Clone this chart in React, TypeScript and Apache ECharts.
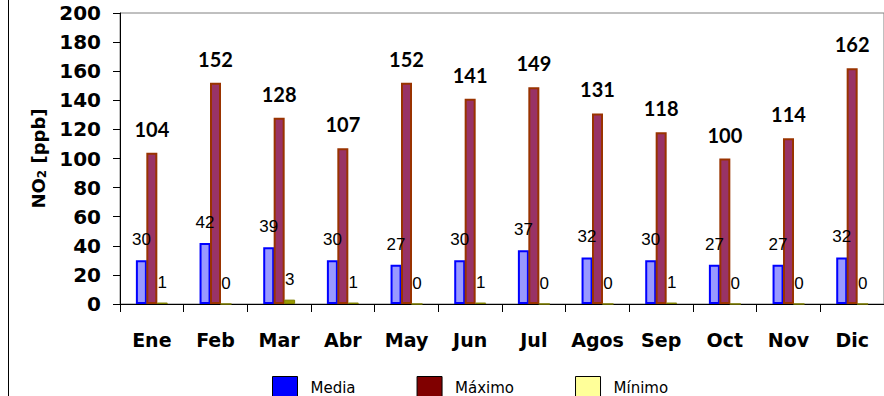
import React, { useEffect, useRef } from "react";
import * as echarts from "echarts";

const categories = ["Ene", "Feb", "Mar", "Abr", "May", "Jun", "Jul", "Agos", "Sep", "Oct", "Nov", "Dic"];
const media = [30, 42, 39, 30, 27, 30, 37, 32, 30, 27, 27, 32];
const maximo = [104, 152, 128, 107, 152, 141, 149, 131, 118, 100, 114, 162];
const minimo = [1, 0, 3, 1, 0, 1, 0, 0, 1, 0, 0, 0];
const seriesNames = ["Media", "Máximo", "Mínimo"];

const HEAD = "'DejaVu Sans', sans-serif";
const GEO = "Lato, 'DejaVu Sans', sans-serif";
const ARIAL = "'Liberation Sans', Arial, sans-serif";

export default function App() {
  const ref = useRef<HTMLDivElement>(null);
  useEffect(() => {
    if (!ref.current) return;
    const chart = echarts.init(ref.current, null, { renderer: "svg" });
    chart.setOption({
      animation: false,
      backgroundColor: "#ffffff",
      grid: {
        left: 120,
        top: 13,
        width: 768,
        height: 291,
        show: true,
        borderColor: "#808080",
        borderWidth: 1,
      },
      legend: {
        left: 267,
        top: 371,
        itemWidth: 25,
        itemHeight: 22,
        itemGap: 61,
        textStyle: { fontFamily: HEAD, fontSize: 15, lineHeight: 16, color: "#000", padding: [3, 0, 0, 8] },
        data: [
          { name: seriesNames[0], icon: "rect", itemStyle: { color: "#0000ff", borderColor: "#000", borderWidth: 1 } },
          { name: seriesNames[1], icon: "rect", itemStyle: { color: "#800000", borderColor: "#000", borderWidth: 1 } },
          { name: seriesNames[2], icon: "rect", itemStyle: { color: "#ffff99", borderColor: "#000", borderWidth: 1 } },
        ],
      },
      xAxis: {
        type: "category",
        data: categories,
        axisLine: { lineStyle: { color: "#000", width: 1 } },
        axisTick: { show: true, length: 8, lineStyle: { color: "#000" } },
        axisLabel: {
          interval: 0,
          color: "#000",
          fontFamily: HEAD,
          fontWeight: "bold",
          fontSize: 19,
          margin: 26,
        },
      },
      yAxis: {
        type: "value",
        min: 0,
        max: 200,
        interval: 20,
        name: "{a|NO}{b|2}{a| [ppb]}",
        nameLocation: "middle",
        nameGap: 72,
        nameRotate: 90,
        nameTextStyle: {
          rich: {
            a: { fontFamily: HEAD, fontWeight: "bold", fontSize: 18, color: "#000" },
            b: { fontFamily: HEAD, fontWeight: "bold", fontSize: 12, color: "#000", padding: [7, 0, 0, 0] },
          },
        },
        axisLine: { show: true, lineStyle: { color: "#000", width: 1 } },
        axisTick: { show: true, length: 7, lineStyle: { color: "#000" } },
        splitLine: { show: false },
        axisLabel: { color: "#000", fontFamily: HEAD, fontWeight: "bold", fontSize: 20, margin: 19 },
      },
      graphic: [
        { type: "line", shape: { x1: 8.5, y1: 0, x2: 8.5, y2: 396 }, style: { stroke: "#000", lineWidth: 1 } },
      ],
      series: [
        {
          name: seriesNames[0],
          type: "bar",
          data: media,
          barWidth: 11,
          barGap: "-5%",
          itemStyle: { color: "#9999ff", borderColor: "#0000ff", borderWidth: 2 },
          label: {
            show: true,
            position: "top",
            distance: 12,
            fontFamily: ARIAL,
            fontSize: 17,
            color: "#000",
          },
        },
        {
          name: seriesNames[1],
          type: "bar",
          data: maximo,
          barWidth: 11,
          barGap: "-5%",
          itemStyle: { color: "#993366", borderColor: "#993300", borderWidth: 2 },
          label: {
            show: true,
            position: "top",
            distance: 14,
            fontFamily: GEO,
            fontWeight: "bold",
            fontSize: 20,
            color: "#000",
          },
        },
        {
          name: seriesNames[2],
          type: "bar",
          data: minimo,
          barWidth: 11,
          barGap: "-5%",
          itemStyle: { color: "#999900", borderColor: "#808000", borderWidth: 1 },
          label: {
            show: true,
            position: "top",
            distance: 12,
            fontFamily: ARIAL,
            fontSize: 17,
            color: "#000",
          },
        },
      ],
    });
    return () => chart.dispose();
  }, []);
  return <div ref={ref} style={{ width: 884, height: 396, position: "absolute", left: 0, top: 0 }} />;
}
